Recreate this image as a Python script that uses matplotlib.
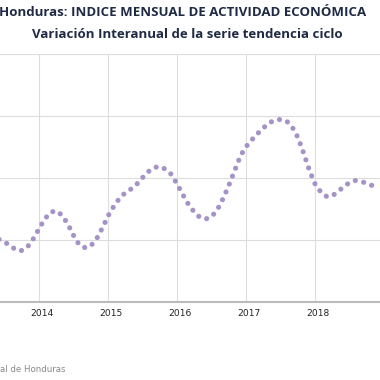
import numpy as np
import matplotlib
matplotlib.use('Agg')
import matplotlib.pyplot as plt
import matplotlib.transforms as mtransforms

# monthly year-on-year variation (%), Jun 2013 .. Dec 2018
variacion = [2.01, 1.92, 1.80, 1.66, 1.65, 1.78, 2.04,
             2.37, 2.68, 2.89, 2.93, 2.78, 2.49, 2.12, 1.82, 1.74, 1.81, 2.04, 2.39,
             2.78, 3.09, 3.35, 3.52, 3.64, 3.80, 4.01, 4.20, 4.33, 4.36, 4.27, 4.10,
             3.78, 3.44, 3.12, 2.88, 2.71, 2.67, 2.75, 2.98, 3.34, 3.77, 4.24, 4.71,
             5.01, 5.23, 5.43, 5.61, 5.77, 5.86, 5.88, 5.83, 5.63, 5.29, 4.78, 4.22,
             3.78, 3.53, 3.39, 3.42, 3.56, 3.72, 3.85, 3.91, 3.88, 3.81, 3.74, 3.67]
anios = ['2014', '2015', '2016', '2017', '2018']

# month index, 0 = Jan 2014
meses = np.arange(len(variacion)) - 7
ticks = np.arange(len(anios)) * 12

W, H = 380, 380
fig = plt.figure(figsize=(3.8, 3.8), dpi=100)
ax = fig.add_axes([0, (H - 301.7) / H, 1, (301.7 - 53.7) / H])

px_mes = 69.0 / 12
ax.set_xlim((0 - 39.3) / px_mes, (W - 39.3) / px_mes)
ax.set_ylim(0, 8)

ax.plot(meses, variacion, color='#a593c7', lw=3.7,
        linestyle=(0, (0.01, 1.65)), dash_capstyle='round')

ax.set_yticks([0, 2, 4, 6, 8])
ax.set_yticklabels([])
ax.set_xticks(ticks)
ax.set_xticklabels(anios, fontsize=6.6, color='#222222')
ax.tick_params(axis='both', length=0)
ax.tick_params(axis='x', pad=5)
offset = mtransforms.ScaledTranslation(3 / 100, 0, fig.dpi_scale_trans)
for lbl in ax.get_xticklabels():
    lbl.set_transform(lbl.get_transform() + offset)

ax.grid(True, color='#dddddd', lw=0.8)
ax.set_axisbelow(True)
for s in ['left', 'right', 'top']:
    ax.spines[s].set_visible(False)
ax.spines['bottom'].set_color('#bbbbbb')
ax.spines['bottom'].set_linewidth(1.5)

fig.text(183 / W, 1 - 13 / H, 'Honduras: INDICE MENSUAL DE ACTIVIDAD ECONÓMICA',
         ha='center', va='center', fontsize=9.5, fontweight='bold',
         color='#1f2a44', family='Open Sans')
fig.text(187.5 / W, 1 - 34 / H, 'Variación Interanual de la serie tendencia ciclo',
         ha='center', va='center', fontsize=9.5, fontweight='bold',
         color='#1f2a44', family='Open Sans')
fig.text(0, 1 - 369 / H, 'al de Honduras', ha='left', va='center',
         fontsize=6.2, color='#888888')

fig.savefig('out.png', dpi=100)
